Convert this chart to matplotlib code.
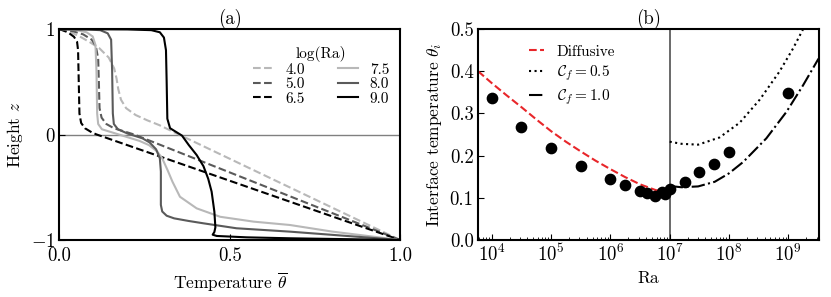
import numpy as np
import matplotlib
matplotlib.use("Agg")
import matplotlib.pyplot as plt

plt.rcParams['font.family'] = 'serif'
plt.rcParams['font.serif'] = ['cmr10', 'DejaVu Serif']
plt.rcParams['mathtext.fontset'] = 'cm'
plt.rcParams['axes.formatter.use_mathtext'] = True
plt.rcParams['axes.unicode_minus'] = True
FS = 13.5     # ticks / titles
LFS = 12.5    # axis labels
GFS = 11      # legends
plt.rcParams['font.size'] = FS

# ---------- Panel (a): temperature profiles ----------
labels_a = ["4.0", "5.0", "6.5", "7.5", "8.0", "9.0"]

T_40 = [0.0, 0.03, 0.06, 0.09, 0.117, 0.145, 0.161, 0.168, 0.173, 0.181, 0.196,
        0.224, 0.258, 0.293, 0.351, 1.0]
z_40 = [1.0, 0.975, 0.93, 0.875, 0.82, 0.73, 0.627, 0.53, 0.43, 0.33, 0.25,
        0.185, 0.135, 0.09, 0.0, -1.0]

T_50 = [0.0, 0.04, 0.07, 0.095, 0.107, 0.114, 0.116, 0.118, 0.124, 0.138, 0.16, 0.22, 1.0]
z_50 = [1.0, 0.98, 0.95, 0.9, 0.84, 0.72, 0.5, 0.25, 0.16, 0.1, 0.06, 0.0, -1.0]

T_65 = [0.0, 0.025, 0.043, 0.052, 0.055, 0.057, 0.059, 0.064, 0.075, 0.097, 0.11, 1.0]
z_65 = [1.0, 0.97, 0.927, 0.88, 0.8, 0.5, 0.2, 0.11, 0.06, 0.017, 0.0, -1.0]

T_75 = [0.0, 0.05, 0.08, 0.098, 0.106, 0.109, 0.111, 0.114, 0.125, 0.16, 0.195,
        0.235, 0.263, 0.287, 0.302, 0.318, 0.332, 0.354, 0.403, 0.472, 0.57, 0.677,
        0.8, 1.0]
z_75 = [1.0, 0.99, 0.97, 0.93, 0.85, 0.6, 0.2, 0.1, 0.05, 0.015, -0.02,
        -0.06, -0.10, -0.16, -0.226, -0.34, -0.447, -0.59, -0.70, -0.78, -0.826, -0.858,
        -0.92, -1.0]

T_80 = [0.0, 0.08, 0.12, 0.142, 0.152, 0.155, 0.157, 0.16, 0.172, 0.2, 0.244, 0.265,
        0.284, 0.295, 0.298, 0.298, 0.302, 0.315, 0.337, 0.38, 0.423, 0.52, 0.677, 1.0]
z_80 = [1.0, 0.997, 0.99, 0.96, 0.9, 0.6, 0.2, 0.1, 0.05, 0.01, -0.036, -0.075,
        -0.14, -0.226, -0.35, -0.668, -0.73, -0.77, -0.795, -0.82, -0.842, -0.889, -0.921, -1.0]

T_90 = [0.0, 0.2, 0.27, 0.295, 0.307, 0.313, 0.315, 0.317, 0.325, 0.345, 0.36,
        0.38, 0.403, 0.423, 0.437, 0.447, 0.455, 0.458, 0.455, 0.45, 0.462, 0.55, 0.677, 1.0]
z_90 = [1.0, 0.997, 0.99, 0.97, 0.92, 0.8, 0.5, 0.15, 0.06, 0.02, -0.01,
        -0.1, -0.194, -0.3, -0.42, -0.542, -0.731, -0.88, -0.925, -0.95, -0.962, -0.975, -0.984, -1.0]

# ---------- Panel (b): interface temperature ----------
Ra_pts = [1e4, 3.16e4, 1e5, 3.16e5, 1e6, 1.78e6, 3.16e6, 4.2e6, 5.6e6,
          7.5e6, 8.5e6, 1e7, 1.78e7, 3.16e7, 5.6e7, 1e8, 1e9]
theta_pts = [0.337, 0.269, 0.219, 0.176, 0.144, 0.130, 0.116, 0.112, 0.104,
             0.113, 0.110, 0.122, 0.138, 0.160, 0.179, 0.209, 0.349]

logRa_diff = [3.77, 4.0, 4.25, 4.5, 4.75, 5.0, 5.25, 5.5, 5.75, 6.0, 6.25, 6.5, 6.75, 7.0]
theta_diff = [0.400, 0.372, 0.343, 0.315, 0.286, 0.258, 0.233, 0.210, 0.188, 0.168,
              0.149, 0.132, 0.119, 0.109]

logRa_c05 = [7.0, 7.2, 7.48, 7.84, 8.18, 8.52, 8.85, 9.08, 9.25]
theta_c05 = [0.233, 0.228, 0.226, 0.243, 0.278, 0.333, 0.399, 0.454, 0.500]

logRa_c10 = [7.0, 7.2, 7.48, 7.76, 8.0, 8.24, 8.63, 8.97, 9.25, 9.51]
theta_c10 = [0.128, 0.125, 0.127, 0.138, 0.158, 0.185, 0.241, 0.304, 0.367, 0.430]

fig = plt.figure(figsize=(8.31, 2.97), dpi=100)
ax1 = fig.add_axes([0.0714, 0.192, 0.410, 0.710])
ax2 = fig.add_axes([0.575, 0.192, 0.410, 0.710])

light = '#b8b8b8'
mid = '#5a5a5a'
lw = 1.5
ax1.axhline(0, color='#808080', lw=1.0, zorder=1)
ax1.plot(T_40, z_40, ls='--', color=light, lw=lw, label=labels_a[0])
ax1.plot(T_50, z_50, ls='--', color=mid, lw=lw, label=labels_a[1])
ax1.plot(T_65, z_65, ls='--', color='black', lw=lw, label=labels_a[2])
ax1.plot(T_75, z_75, ls='-', color=light, lw=lw, label=labels_a[3])
ax1.plot(T_80, z_80, ls='-', color=mid, lw=lw, label=labels_a[4])
ax1.plot(T_90, z_90, ls='-', color='black', lw=lw, label=labels_a[5])
ax1.set_xlim(0, 1)
ax1.set_ylim(-1, 1)
ax1.set_xticks([0, 0.5, 1.0])
ax1.set_xticklabels(['0.0', '0.5', '1.0'])
ax1.set_yticks([-1, 0, 1])
ax1.set_xlabel(r'Temperature $\overline{\theta}$', fontsize=LFS, labelpad=4)
ax1.set_ylabel(r'Height $z$', fontsize=LFS)
ax1.set_title('(a)', fontsize=FS, pad=2)
ax1.legend(title='log(Ra)', ncol=2, frameon=False, loc='upper right',
           bbox_to_anchor=(1.0, 0.97), fontsize=GFS, title_fontsize=GFS,
           handlelength=1.3, columnspacing=2.15, labelspacing=0.05,
           handletextpad=0.8, borderpad=0.2)

ax2.axvline(1e7, color='#505050', lw=1.2, zorder=1)
ax2.plot(10**np.array(logRa_diff), theta_diff, ls='--', color='#e8262a', lw=1.5,
         label='Diffusive')
ax2.plot(10**np.array(logRa_c05), theta_c05, ls=':', color='black', lw=1.5,
         label=r'$\mathcal{C}_f = 0.5$')
ax2.plot(10**np.array(logRa_c10), theta_c10, ls='-.', color='black', lw=1.5,
         label=r'$\mathcal{C}_f = 1.0$')
ax2.scatter(Ra_pts, theta_pts, s=55, color='black', zorder=3)
ax2.set_xscale('log')
ax2.set_xlim(10**3.765, 10**9.51)
ax2.set_ylim(0, 0.5)
ax2.set_xticks([1e4, 1e5, 1e6, 1e7, 1e8, 1e9])
ax2.set_yticks([0.0, 0.1, 0.2, 0.3, 0.4, 0.5])
ax2.set_yticklabels(['0.0', '0.1', '0.2', '0.3', '0.4', '0.5'])
ax2.set_xlabel('Ra', fontsize=LFS, labelpad=4)
ax2.set_ylabel(r'Interface temperature $\theta_i$', fontsize=LFS)
ax2.set_title('(b)', fontsize=FS, pad=2)
ax2.legend(frameon=False, loc='upper left', bbox_to_anchor=(0.11, 0.99),
           fontsize=GFS, handlelength=1.0, labelspacing=0.3, handletextpad=0.8)

for ax in (ax1, ax2):
    ax.tick_params(which='both', direction='in', labelsize=FS, pad=3)
    ax.tick_params(which='major', length=4)
    ax.tick_params(which='minor', length=2)
    for s in ax.spines.values():
        s.set_linewidth(1.5)
ax1.tick_params(axis='x', pad=5)

fig.savefig('out.png', dpi=100)
